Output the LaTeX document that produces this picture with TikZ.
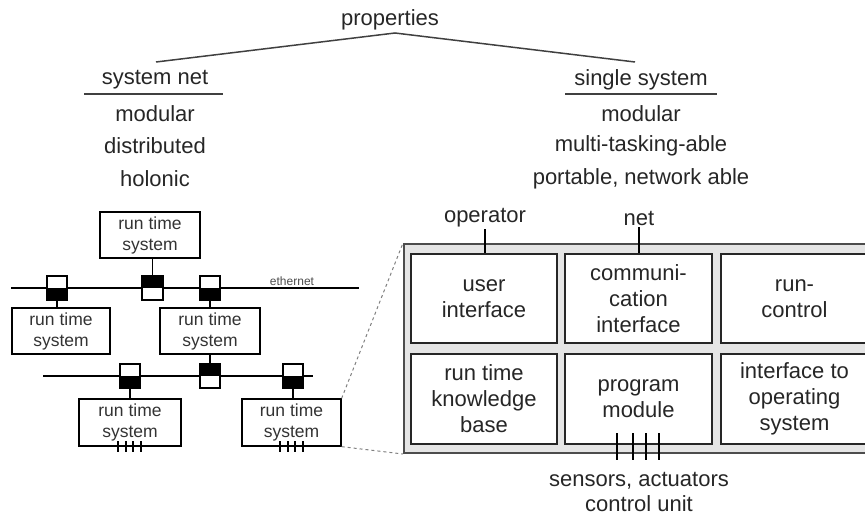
\documentclass[tikz,border=0pt]{standalone}
\usepackage{fontspec}
\setmainfont{Liberation Sans}
\begin{document}
\begin{tikzpicture}[x=1pt,y=-1pt,
  txt/.style={font=\fontsize{22}{26}\selectfont, inner sep=0pt, text=black!85},
  rts/.style={draw, line width=1.3pt, minimum width=100pt, minimum height=46pt, align=center,
    font=\fontsize{17.5}{21}\selectfont, inner sep=0pt, text=black!80},
  sq/.style={draw, fill=white, line width=1.2pt, minimum width=20pt, minimum height=23pt, inner sep=0pt},
  cell/.style={draw=black!85, fill=white, line width=1.6pt, align=center, minimum width=146pt,
    minimum height=89pt, font=\fontsize{22}{26}\selectfont, inner sep=0pt, text=black!85},
  wire/.style={line width=1.3pt},
  tick/.style={line width=1.2pt},
  zoomline/.style={dashed, gray, line width=1pt}
]
\useasboundingbox (0,0) rectangle (865,517);
\begin{scope}
\clip (0,0) rectangle (865,517);
% ---------- properties tree ----------
\node[txt] (prop) at (390,20) {properties};
\coordinate (peak) at (395,33);
\coordinate (lend) at (156,62);
\coordinate (rend) at (635,62);
\draw[line width=1.5pt, black!75] (lend) -- (peak) -- (rend);

\node[txt] (sn) at (155,80) {system net};
\coordinate (snl) at (84,94); \coordinate (snr) at (223,94);
\draw[line width=1.5pt, black!75] (snl) -- (snr);
\node[txt] (sn1) at (155,114) {modular};
\node[txt] (sn2) at (155,146) {distributed};
\node[txt] (sn3) at (155,179) {holonic};

\node[txt] (ss) at (641,80) {single system};
\coordinate (ssl) at (565,94); \coordinate (ssr) at (717,94);
\draw[line width=1.5pt, black!75] (ssl) -- (ssr);
\node[txt] (ss1) at (641,114) {modular};
\node[txt] (ss2) at (641,146) {multi-tasking-able};
\node[txt] (ss3) at (641,179) {portable, network able};

% ---------- system net ----------
\coordinate (e1) at (11,288); \coordinate (e2) at (359,288);
\draw[wire] (e1) -- (e2);
\node[font=\fontsize{12}{14}\selectfont, inner sep=0pt, text=black!70] (eth) at (292,281) {ethernet};
\coordinate (f1) at (43,376); \coordinate (f2) at (313,376);
\draw[wire] (f1) -- (f2);

\node[rts] (top) at (150,235) {run time\\system};
\node[rts, minimum width=98pt] (left) at (61,331) {run time\\system};
\node[rts] (mid) at (210,331) {run time\\system};
\node[rts, minimum width=102pt, minimum height=47pt] (bl) at (130,422.5) {run time\\system};
\node[rts, minimum width=99pt, minimum height=47pt] (br) at (291.5,422.5) {run time\\system};

\node[sq] (s1) at (57,288) {};
\node[sq] (s2) at (152.5,288) {};
\node[sq] (s3) at (210,288) {};
\node[sq] (s4) at (130,376) {};
\node[sq] (s5) at (210,376) {};
\node[sq] (s6) at (293,376) {};
% black half faces the attached system
\foreach \s in {s1,s3,s4,s6}{
  \fill (\s.west) rectangle (\s.south east);
  \draw[line width=1.2pt] (\s.north west) rectangle (\s.south east);}
\foreach \s in {s2,s5}{
  \fill (\s.north west) rectangle (\s.east);
  \draw[line width=1.2pt] (\s.north west) rectangle (\s.south east);}

\draw[wire] (s2.north) -- (s2.north |- top.south);
\draw[wire] (s1.south) -- (s1.south |- left.north);
\draw[wire] (s3.south) -- (s3.south |- mid.north);
\draw[wire] (mid.south) -- (mid.south |- s5.north);
\draw[wire] (s4.south) -- (s4.south |- bl.north);
\draw[wire] (s6.south) -- (s6.south |- br.north);

\foreach \x in {118,126,133,141}{\draw[tick] (\x,441) -- (\x,452);}
\foreach \x in {280,288,295,303}{\draw[tick] (\x,441) -- (\x,452);}

% ---------- single system ----------
\node[draw=black!70, fill=black!10, line width=2pt, minimum width=480pt, minimum height=209pt,
      inner sep=0pt, anchor=north west] (big) at (403,243) {};
\draw[zoomline] (br.north east) -- (big.north west);
\draw[zoomline] (br.south east) -- (big.south west);

\node[cell] (c11) at (484,298.5) {user\\interface};
\node[cell, minimum width=147pt] (c12) at (638.5,298.5) {communi-\\cation\\interface};
\node[cell, minimum width=147pt] (c13) at (794.5,298.5) {run-\\control};
\node[cell, minimum height=90pt] (c21) at (484,399) {run time\\knowledge\\base};
\node[cell, minimum width=147pt, minimum height=90pt] (c22) at (638.5,399) {program\\module};
\node[cell, minimum width=147pt, minimum height=90pt] (c23) at (794.5,399) {interface to\\operating\\system};

\node[txt] (op) at (485,218) {operator};
\draw[wire] (op.south |- 0,229) -- (op.south |- c11.north);
\node[txt] (net) at (639,218) {net};
\draw[wire] (net.south |- 0,227) -- (net.south |- c12.north);

\foreach \x in {617,633,646,659}{\draw[tick] (\x,433) -- (\x,460);}
\node[txt, align=center, font=\fontsize{22}{25}\selectfont] (sens) at (639,492) {sensors, actuators\\control unit};
\end{scope}
\end{tikzpicture}
\end{document}
